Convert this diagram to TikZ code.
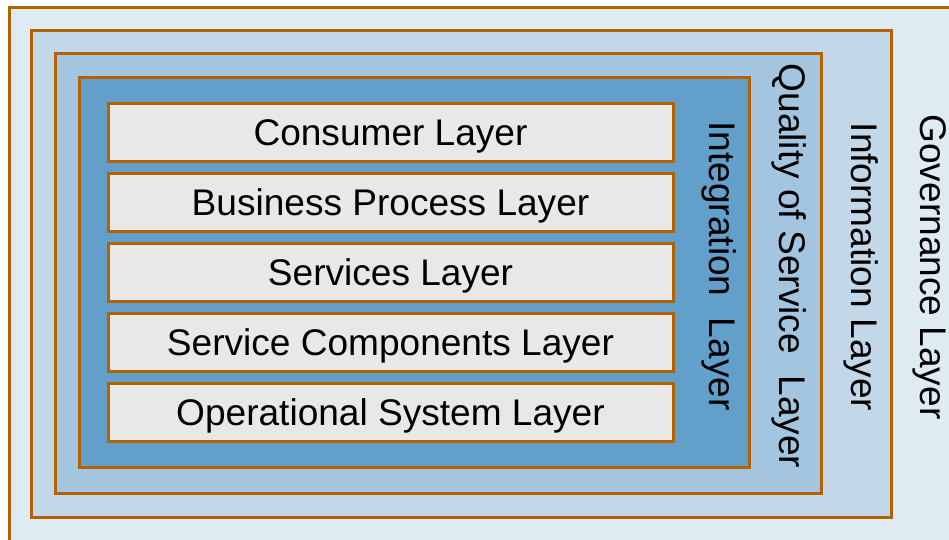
\documentclass[tikz,border=0pt]{standalone}
\usepackage{fontspec}
\setmainfont{Liberation Sans}
\usetikzlibrary{positioning}
\definecolor{govfill}{HTML}{DFEBF3}
\definecolor{infofill}{HTML}{C2D8E8}
\definecolor{qosfill}{HTML}{A3C5E0}
\definecolor{intfill}{HTML}{629FCA}
\definecolor{layfill}{HTML}{E8E8E8}
\definecolor{rim}{HTML}{B46100}
\def\laysep{70}

\begin{document}
\begin{tikzpicture}[x=0.75pt, y=-0.75pt, font=\fontsize{27.8}{33}\selectfont]
    \tikzstyle{frame}=[draw=rim, line width=2.25pt]
    \tikzstyle{layer}=[frame, fill=layfill, rectangle, minimum width=423.75pt, minimum height=43.5pt, inner sep=0pt, text height=19.9pt, text depth=0pt]
    \tikzstyle{side}=[rotate=-90, inner sep=0pt]

    \clip (0,0) rectangle (949,539);
    \fill[white] (0,0) rectangle (949,539);

    % nested frames, outermost first
    \draw[frame, fill=govfill] (9,7) rectangle (970,560);
    \draw[frame, fill=infofill] (31,30) rectangle (891,517);
    \draw[frame, fill=qosfill] (55,53) rectangle (821,493);
    \draw[frame, fill=intfill] (79,77) rectangle (749,467);

    % the stacked layers
    \node[layer] (L-1) at (390.5,132) {Consumer Layer};
    \node[layer] (L-2) at (390.5,132+\laysep) {Business Process Layer};
    \node[layer] (L-3) at (390.5,132+2*\laysep) {Services Layer};
    \node[layer] (L-4) at (390.5,132+3*\laysep) {Service Components Layer};
    \node[layer] (L-5) at (390.5,132+4*\laysep) {Operational System Layer};

    % vertical labels
    \node[side] (S-1) at (719,266) {Integration\hspace{0.3em} Layer};
    \node[side] (S-2) at (789,266) {Quality of Service\hspace{0.3em} Layer};
    \node[side] (S-3) at (861,267) {Information Layer};
    \node[side] (S-4) at (930,267) {Governance Layer};
\end{tikzpicture}
\end{document}
